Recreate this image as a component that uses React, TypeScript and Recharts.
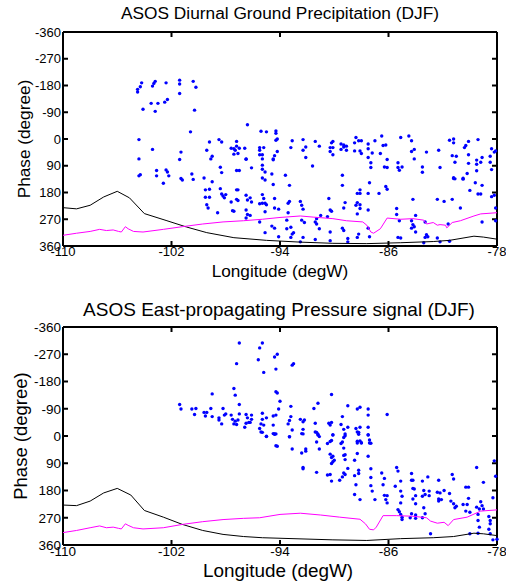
import React from 'react';
import { ComposedChart, Scatter, XAxis, YAxis } from 'recharts';

type P = [number, number];

const lonTicks = [-110, -102, -94, -86, -78];
const phaseTicks = [-360, -270, -180, -90, 0, 90, 180, 270, 360];

const precipPoints: P[] = [
  [-104.5,-167],[-104.5,-158],[-104.3,-176],[-104.2,-189],[-103.4,-178],[-103.3,-187],[-103.2,-194],[-102.4,-189],[-101.4,-198],[-101.4,-185],[-100.4,-194],[-100.2,-174],[-101.4,-153],[-103.5,-120],[-103.0,-120],[-102.5,-124],[-102.3,-133],[-104.1,-100],[-103.2,-93],[-100.3,-97],[-100.6,-24],[-104.4,2],[-103.4,35],[-101.3,44],[-104.4,67],[-101.4,69],[-96.4,-48],[-99.2,10],[-98.5,2],[-98.3,10],[-97.2,8],[-95.4,-26],[-95.0,-24],[-94.3,-27],[-94.3,-19],[-94.3,4],[-94.2,0],[-99.4,38],[-99.0,58],[-99.1,67],[-97.6,31],[-97.4,33],[-97.3,38],[-97.2,24],[-97.0,31],[-97.4,51],[-97.1,49],[-96.6,31],[-96.5,67],[-95.5,29],[-95.5,38],[-95.2,29],[-95.5,53],[-95.3,53],[-95.3,67],[-94.4,56],[-94.2,42],[-94.5,67],
  [-104.3,120],[-104.4,124],[-103.1,106],[-103.1,124],[-102.4,104],[-102.3,111],[-102.2,124],[-102.6,149],[-101.3,133],[-101.2,138],[-100.5,118],[-100.4,136],[-99.6,131],[-98.4,95],[-98.3,113],[-99.0,144],[-98.4,167],[-99.5,171],[-99.2,169],[-99.5,196],[-99.2,196],[-99.4,221],[-99.3,232],[-98.6,248],[-98.3,185],[-98.2,192],[-98.0,187],[-98.1,198],[-97.2,106],[-97.0,106],[-96.5,68],[-96.1,97],[-97.2,171],[-97.1,171],[-97.2,203],[-97.1,207],[-97.6,212],[-97.5,241],[-97.4,243],[-96.5,189],[-96.4,205],[-96.2,198],[-96.1,212],[-96.5,239],[-96.4,254],[-96.2,257],[-96.5,266],[-95.3,88],[-95.3,102],[-95.1,111],[-95.3,131],[-95.1,138],[-94.5,70],[-94.6,118],[-94.5,153],[-95.3,187],[-95.2,200],[-95.3,216],[-95.1,216],[-95.5,218],[-95.0,221],[-94.4,200],[-94.4,232],[-94.1,236],[-95.1,245],[-95.5,279],[-94.6,293],[-94.4,300],[-95.1,315],[-94.1,329],
  [-93.6,122],[-91.6,91],[-89.4,122],[-93.2,29],[-93.1,6],[-92.3,2],[-92.1,27],[-92.3,38],[-92.1,62],[-91.4,8],[-91.1,24],[-90.3,29],[-90.2,13],[-90.1,8],[-90.3,42],[-90.1,53],[-90.1,29],[-89.5,17],[-89.3,27],[-89.3,20],[-89.1,24],[-89.5,35],[-89.1,38],[-88.5,13],[-88.4,-5],[-88.2,6],[-88.0,6],[-88.5,40],[-88.1,40],[-88.0,49],[-87.5,17],[-87.5,33],[-87.2,47],[-87.5,62],[-87.3,80],[-87.3,96],[-87.0,6],[-86.5,-10],[-86.4,22],[-86.2,20],[-86.6,49],[-86.1,69],[-86.3,94],[-86.1,96],[-85.3,80],[-85.3,96],[-85.2,105],[-85.0,94],[-85.1,-5],[-84.5,-10],[-84.3,6],[-84.3,42],[-84.1,35],[-84.1,67],[-83.5,94],[-83.5,112],[-83.2,44],[-82.3,38],[-82.2,96],[-81.5,4],[-81.2,0],[-81.2,13],[-81.3,56],[-81.0,58],[-81.1,78],[-81.2,130],[-81.1,134],[-80.5,132],[-80.3,22],[-80.4,29],[-80.1,8],[-79.4,2],[-80.1,53],[-80.1,82],[-80.2,116],[-79.5,71],[-79.5,85],[-79.2,78],[-79.1,62],[-79.5,107],[-78.5,58],[-78.4,33],[-78.2,44],[-78.5,78],[-78.4,103],[-78.1,40],
  [-93.3,156],[-93.3,210],[-93.4,216],[-93.4,248],[-93.5,273],[-93.5,302],[-93.2,297],[-93.1,320],[-93.0,315],[-93.2,331],[-92.5,210],[-92.4,223],[-92.3,236],[-92.4,273],[-92.2,281],[-92.3,331],[-92.5,346],[-91.4,279],[-91.3,286],[-91.3,268],[-91.0,257],[-91.1,302],[-91.4,338],[-90.4,200],[-90.3,239],[-90.2,243],[-90.5,261],[-90.3,313],[-90.3,342],[-89.4,156],[-89.2,214],[-89.3,232],[-89.4,300],[-89.3,308],[-89.0,335],[-89.0,346],[-88.3,183],[-88.1,183],[-88.1,171],[-88.3,214],[-88.1,221],[-88.4,223],[-88.1,234],[-88.3,252],[-88.2,320],[-88.3,331],[-87.4,147],[-87.5,183],[-87.5,239],[-87.5,300],[-87.4,329],[-86.2,160],[-86.1,169],[-86.7,183],[-85.4,234],[-85.4,254],[-85.2,275],[-85.3,331],[-85.1,333],[-84.2,203],[-84.3,275],[-84.2,288],[-84.3,300],[-84.0,257],[-84.1,295],[-84.0,313],[-83.3,279],[-83.2,322],[-83.3,331],[-83.1,329],[-83.4,349],[-82.4,203],[-81.9,210],[-82.4,333],[-82.2,346],[-81.3,203],[-81.6,286],[-81.5,344],[-81.2,133],[-80.5,135],[-80.7,232],[-80.0,173],[-79.6,147],[-79.4,185],[-79.2,185],[-79.1,156],[-78.4,194],[-78.2,189],[-78.1,232],[-79.1,279],[-78.1,275],
];

const pressurePoints: P[] = [
  [-97.0,-307],[-95.3,-307],[-95.5,-291],[-95.6,-252],[-94.2,-270],[-94.4,-261],[-97.2,-239],[-95.2,-210],[-94.3,-221],[-93.0,-239],[-93.1,-234],[-97.4,-157],[-97.3,-135],[-99.0,-139],[-94.3,-146],[-94.2,-142],[-94.0,-115],[-90.2,-137],[-97.0,-104],[-101.4,-104],[-101.3,-89],[-100.5,-89],[-100.2,-91],[-100.3,-71],[-99.6,-78],[-99.4,-78],[-99.5,-66],[-99.1,-91],[-99.0,-64],[-98.5,-60],[-98.5,-53],[-98.3,-40],[-98.2,-91],[-98.1,-69],[-98.0,-73],[-97.6,-69],[-97.5,-55],[-97.4,-40],[-97.3,-49],[-97.2,-38],[-97.1,-53],[-97.0,-73],[-96.5,-71],[-96.4,-60],[-96.3,-45],[-96.5,-42],[-96.6,-29],[-96.2,-45],[-96.1,-69],[-96.1,-55],[-95.3,-75],[-95.3,-55],[-95.4,-40],[-95.5,-25],[-95.4,-13],[-95.2,-36],[-95.0,-60],[-95.0,2],[-94.5,-66],[-94.3,-69],[-94.5,-36],[-94.4,-7],[-94.3,-7],[-94.1,-89],[-93.4,-40],[-93.3,-51],[-93.2,-64],[-93.1,-20],[-93.3,2],[-93.2,-98],[-92.5,-55],[-92.3,-47],[-92.2,-53],[-92.3,-22],[-92.3,-7],[-91.5,-91],[-91.2,-108],[-91.4,-42],[-91.4,-13],[-91.2,-3],[-91.1,2],[-90.4,-42],[-90.3,-36],[-90.2,-45],[-90.1,-3],[-90.2,15],[-89.4,-64],[-89.5,-38],[-89.3,-22],[-89.2,-7],[-89.0,-100],[-89.0,-29],[-89.4,20],[-88.3,-89],[-88.1,-95],[-88.4,-25],[-88.3,-13],[-88.1,-29],[-88.3,17],[-88.0,22],[-87.5,-89],[-87.5,-69],[-87.5,-29],[-87.5,-3],[-87.4,13],[-86.1,-71],[-87.3,24],
  [-95.3,-12],[-95.0,1],[-94.5,-8],[-94.4,-6],[-94.3,32],[-94.2,34],[-93.3,3],[-93.1,43],[-92.4,-8],[-92.4,56],[-92.1,43],[-92.1,50],[-92.3,104],[-92.3,108],[-91.3,-12],[-91.2,-6],[-91.3,20],[-91.1,43],[-91.3,120],[-90.5,25],[-90.3,18],[-90.1,-4],[-90.3,60],[-90.2,71],[-90.1,67],[-90.1,85],[-90.2,91],[-90.0,80],[-90.5,129],[-90.3,127],[-90.2,149],[-89.5,25],[-89.3,5],[-89.2,-1],[-89.3,40],[-89.2,62],[-89.3,64],[-89.2,78],[-89.0,107],[-89.3,122],[-89.2,127],[-89.4,135],[-89.6,146],[-88.5,80],[-88.3,58],[-88.3,23],[-88.2,-12],[-88.2,-6],[-88.1,16],[-88.0,23],[-87.5,-4],[-87.4,23],[-87.5,67],[-88.2,113],[-88.2,124],[-88.5,131],[-88.4,161],[-88.5,193],[-88.1,210],[-87.3,108],[-87.3,137],[-87.3,164],[-87.2,182],[-87.0,210],[-86.5,122],[-86.3,140],[-86.4,161],[-86.3,196],[-86.1,197],[-86.2,210],[-86.1,221],[-85.4,104],[-85.3,116],[-85.5,166],[-85.1,149],[-85.1,182],[-85.0,199],[-85.1,221],[-85.3,243],[-85.2,250],[-85.1,259],[-85.0,268],[-85.0,276],[-84.3,124],[-84.3,146],[-84.2,146],[-84.2,173],[-84.1,175],[-84.0,197],[-84.2,208],[-84.0,224],[-84.3,257],[-84.4,270],[-84.0,261],[-84.0,272],[-83.5,149],[-83.4,180],[-83.3,193],[-83.5,199],[-83.4,237],[-83.3,257],[-83.5,270],[-82.9,323],[-83.1,135],[-83.0,182],[-83.0,197],[-82.3,146],[-82.4,186],[-82.2,188],[-82.3,208],[-82.3,215],[-82.1,210],[-81.9,180],[-81.5,190],[-81.3,127],[-81.2,142],[-81.4,215],[-81.2,224],[-81.1,237],[-81.0,232],[-80.3,169],[-80.1,169],[-80.5,226],[-80.2,226],[-80.1,206],[-80.3,248],[-80.0,252],[-80.0,323],[-79.5,104],[-79.0,153],[-79.5,235],[-79.3,241],[-79.2,217],[-79.1,230],[-79.0,241],[-79.4,259],[-79.4,279],[-79.3,301],[-79.4,321],[-78.6,266],[-78.5,279],[-78.5,290],[-78.6,308],[-78.5,323],[-78.2,82],[-78.1,133],[-78.3,204],[-78.3,343],[-78.0,341],
];

const blackLineTop: P[] = [
  [-110,231],[-109.0,235],[-108.0,223],[-107.0,195],[-106.0,176],[-105.1,198],[-104.0,251],[-102.4,274],[-100.9,296],[-99.4,315],[-97.4,332],[-95.0,341],[-92.5,347],[-90.1,351],[-87.6,352],[-85.1,349],[-82.7,345],[-81.5,341],[-79.7,327],[-79.0,330],[-78.0,337],
];
const magentaLineTop: P[] = [
  [-110,324],[-109.0,317],[-108.0,311],[-107.3,304],[-106.8,308],[-106.3,306],[-105.9,311],[-105.7,313],[-105.4,295],[-105.2,302],[-104.8,311],[-104.1,313],[-102.6,304],[-101.2,295],[-99.7,286],[-98.2,279],[-96.7,275],[-95.3,270],[-94.0,264],[-92.5,259],[-91.5,263],[-90.1,268],[-89.1,275],[-87.9,279],[-87.6,290],[-87.3,313],[-87.1,317],[-86.6,302],[-86.1,266],[-85.1,270],[-84.2,268],[-83.4,273],[-83.2,286],[-82.7,281],[-82.4,290],[-82.2,288],[-81.8,290],[-81.7,299],[-81.3,281],[-80.7,275],[-79.7,259],[-79.2,252],[-78.0,248],
];
const blackLineBottom: P[] = [
  [-110,228],[-109.0,230],[-108.0,215],[-107.0,188],[-106.0,173],[-105.0,195],[-104.0,246],[-102.6,268],[-101.2,292],[-99.7,312],[-98.2,325],[-96.7,332],[-95.3,336],[-90.1,343],[-87.6,345],[-85.1,339],[-82.7,336],[-81.2,332],[-79.7,321],[-79.0,323],[-78.0,329],
];
const magentaLineBottom: P[] = [
  [-110,319],[-109.0,312],[-108.0,303],[-107.3,297],[-106.8,303],[-106.3,301],[-105.9,305],[-105.7,307],[-105.4,290],[-105.2,295],[-104.8,303],[-104.1,307],[-102.6,303],[-101.2,292],[-99.7,283],[-98.2,276],[-96.7,272],[-95.5,270],[-94.0,259],[-92.5,255],[-91.0,261],[-89.6,268],[-88.1,275],[-87.7,290],[-87.4,308],[-87.1,310],[-86.9,301],[-86.4,263],[-85.4,263],[-84.2,265],[-83.2,270],[-82.9,281],[-82.4,288],[-81.9,285],[-81.6,296],[-81.2,276],[-80.2,268],[-79.2,248],[-78.0,244],
];

const FONT = '"Liberation Sans", Arial, Helvetica, sans-serif';

const toRows = (arr: P[]) => arr.map(([lon, phase]) => ({ lon, phase }));

const Dot = (props: any) => {
  const { cx, cy } = props;
  if (cx == null || cy == null) return <g />;
  return <circle cx={cx} cy={cy} r={1.7} fill="#0000ff" />;
};
const NoShape = () => <g />;

interface PanelProps {
  top: number;
  height: number;
  plotTop: number;
  plotBottom: number;
  points: P[];
  black: P[];
  magenta: P[];
  tickFont: number;
}

function Panel({ top, height, plotTop, plotBottom, points, black, magenta, tickFont }: PanelProps) {
  const axisStroke = { stroke: '#000', strokeWidth: 2 };
  const tickStroke = { stroke: '#000', strokeWidth: 2 };
  const tickText = { fill: '#000', fontSize: tickFont, fontFamily: FONT };
  return (
    <div style={{ position: 'absolute', left: 0, top, width: 506, height }}>
      <ComposedChart
        width={506}
        height={height}
        margin={{ top: plotTop - 1, right: 8, bottom: height - plotBottom - 30, left: 13 }}
      >
        <XAxis
          xAxisId="b"
          type="number"
          dataKey="lon"
          orientation="bottom"
          domain={[-110, -78]}
          ticks={lonTicks}
          height={30}
          axisLine={axisStroke}
          tickLine={tickStroke}
          tickSize={-5}
          tickMargin={6}
          tick={tickText}
          interval={0}
        />
        <XAxis
          xAxisId="t"
          type="number"
          dataKey="lon"
          orientation="top"
          domain={[-110, -78]}
          ticks={lonTicks}
          height={1}
          axisLine={axisStroke}
          tickLine={tickStroke}
          tickSize={-5}
          tickFormatter={() => ''}
          interval={0}
        />
        <YAxis
          yAxisId="l"
          type="number"
          dataKey="phase"
          orientation="left"
          domain={[-360, 360]}
          ticks={phaseTicks}
          reversed
          width={50}
          axisLine={axisStroke}
          tickLine={tickStroke}
          tickSize={-5}
          tickMargin={7}
          tick={tickText}
          interval={0}
        />
        <YAxis
          yAxisId="r"
          type="number"
          dataKey="phase"
          orientation="right"
          domain={[-360, 360]}
          ticks={phaseTicks}
          reversed
          width={1}
          axisLine={axisStroke}
          tickLine={tickStroke}
          tickSize={-5}
          tickFormatter={() => ''}
          interval={0}
        />
        <Scatter
          xAxisId="b"
          yAxisId="l"
          data={toRows(points)}
          dataKey="phase"
          shape={Dot}
          isAnimationActive={false}
        />
        <Scatter
          xAxisId="b"
          yAxisId="l"
          data={toRows(black)}
          dataKey="phase"
          shape={NoShape}
          line={{ stroke: '#000000', strokeWidth: 1 }}
          isAnimationActive={false}
        />
        <Scatter
          xAxisId="t"
          yAxisId="r"
          data={toRows(magenta)}
          dataKey="phase"
          shape={NoShape}
          line={{ stroke: '#ff00ff', strokeWidth: 1 }}
          isAnimationActive={false}
        />
      </ComposedChart>
    </div>
  );
}

export default function App() {
  return (
    <div style={{ position: 'absolute', left: 0, top: 0, width: 506, height: 582, background: '#fff' }}>
      <Panel top={0} height={290} plotTop={32} plotBottom={246} points={precipPoints} black={blackLineTop} magenta={magentaLineTop} tickFont={13} />
      <Panel top={290} height={292} plotTop={37} plotBottom={255} points={pressurePoints} black={blackLineBottom} magenta={magentaLineBottom} tickFont={13.5} />
      <svg width={506} height={582} style={{ position: 'absolute', left: 0, top: 0, pointerEvents: 'none' }}>
        <g fontFamily={FONT} fill="#000">
          <text x={280} y={19} fontSize={17.3} textAnchor="middle">ASOS Diurnal Ground Precipitation (DJF)</text>
          <text x={280} y={276.5} fontSize={17.2} textAnchor="middle">Longitude (degW)</text>
          <text x={30} y={139} fontSize={17.2} textAnchor="middle" transform="rotate(-90 30 139)">Phase (degree)</text>
          <text x={279} y={316} fontSize={19} textAnchor="middle">ASOS East-propagating Pressure signal (DJF)</text>
          <text x={278} y={576.5} fontSize={18.9} textAnchor="middle">Longitude (degW)</text>
          <text x={27} y={436} fontSize={18.5} textAnchor="middle" transform="rotate(-90 27 436)">Phase (degree)</text>
        </g>
      </svg>
    </div>
  );
}
